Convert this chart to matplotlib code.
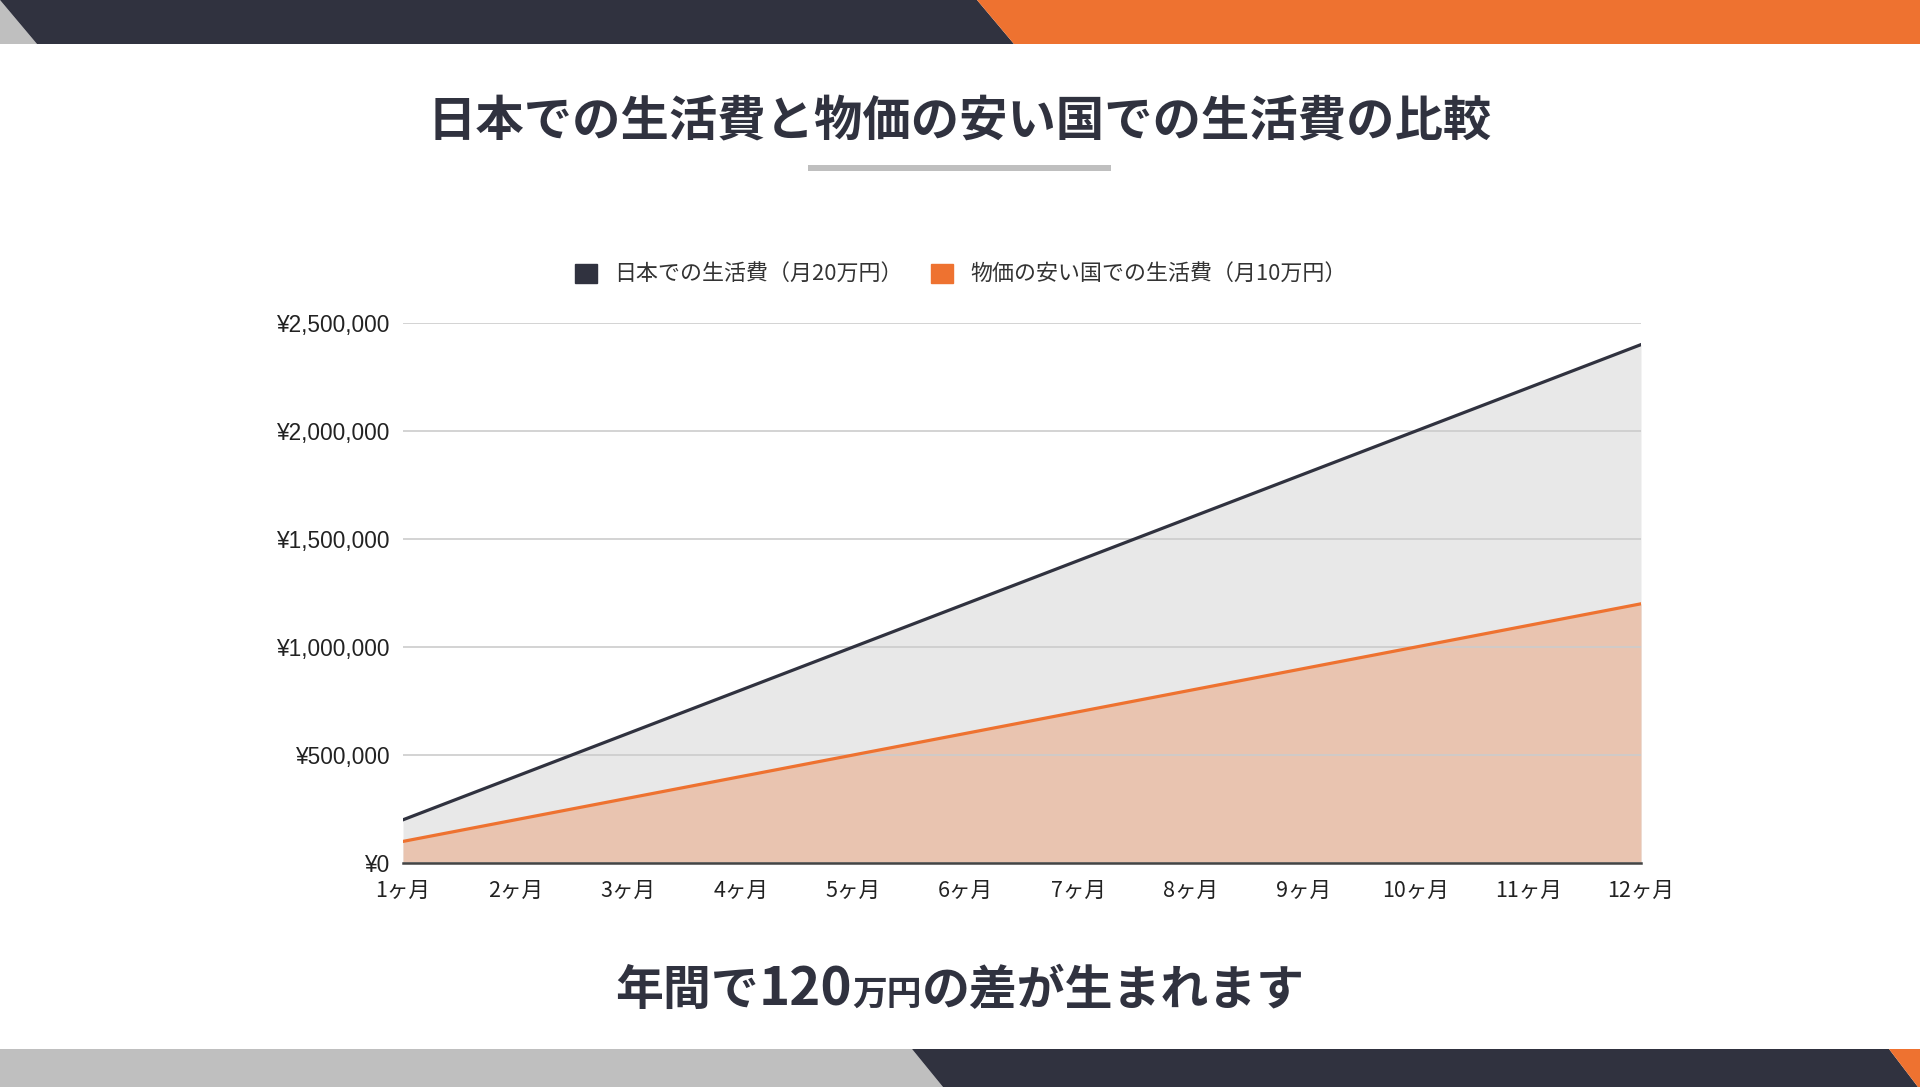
import matplotlib
matplotlib.use("Agg")
import matplotlib.pyplot as plt
from matplotlib.patches import Polygon
from matplotlib.ticker import FuncFormatter

plt.rcParams['font.family'] = ['Noto Sans CJK JP', 'DejaVu Sans']

# データ
months = ['1ヶ月', '2ヶ月', '3ヶ月', '4ヶ月', '5ヶ月', '6ヶ月',
          '7ヶ月', '8ヶ月', '9ヶ月', '10ヶ月', '11ヶ月', '12ヶ月']
japan_cost = [200000, 400000, 600000, 800000, 1000000, 1200000,
              1400000, 1600000, 1800000, 2000000, 2200000, 2400000]
cheap_cost = [100000, 200000, 300000, 400000, 500000, 600000,
              700000, 800000, 900000, 1000000, 1100000, 1200000]
y_ticks = [0, 500000, 1000000, 1500000, 2000000, 2500000]
series_names = ['日本での生活費（月20万円）', '物価の安い国での生活費（月10万円）']

DARK = '#30323F'
ORANGE = '#EE7230'
GRAY = '#BFBFBF'

W, H = 1920, 1087
fig = plt.figure(figsize=(W / 100, H / 100), dpi=100)
fig.patch.set_facecolor('white')

# 背景の帯
bg = fig.add_axes([0, 0, 1, 1])
bg.set_xlim(0, W)
bg.set_ylim(H, 0)
bg.axis('off')
bg.add_patch(Polygon([(0, 0), (0, 44), (37, 44)], color=GRAY, lw=0))
bg.add_patch(Polygon([(0, 0), (977, 0), (1014, 44), (37, 44)], color=DARK, lw=0))
bg.add_patch(Polygon([(977, 0), (W, 0), (W, 44), (1014, 44)], color=ORANGE, lw=0))
bg.add_patch(Polygon([(0, 1049), (912, 1049), (943, H), (0, H)], color=GRAY, lw=0))
bg.add_patch(Polygon([(912, 1049), (1889, 1049), (1918, H), (943, H)], color=DARK, lw=0))
bg.add_patch(Polygon([(1889, 1049), (W, 1049), (W, H), (1918, H)], color=ORANGE, lw=0))

# タイトル
bg.text(960, 121, '日本での生活費と物価の安い国での生活費の比較', ha='center', va='center',
        fontsize=34.8, fontweight='bold', color=DARK)
bg.add_patch(Polygon([(808, 165), (1111, 165), (1111, 171), (808, 171)], color=GRAY, lw=0))

# グラフ
ax = fig.add_axes([403 / W, 1 - 863 / H, (1641 - 403) / W, (863 - 323) / H])
x = list(range(len(months)))
ax.fill_between(x, 0, japan_cost, color='#E8E8E8', lw=0, zorder=1)
ax.fill_between(x, 0, cheap_cost, color='#E9C4B0', lw=0, zorder=2)
ax.plot(x, japan_cost, color=DARK, lw=2.3, zorder=4, label=series_names[0])
ax.plot(x, cheap_cost, color=ORANGE, lw=2.3, zorder=4, label=series_names[1])

ax.set_xlim(0, len(months) - 1)
ax.set_ylim(0, 2500000)
ax.set_yticks(y_ticks)
ax.yaxis.set_major_formatter(FuncFormatter(lambda v, p: f'¥{int(v):,}'))
ax.set_xticks(x)
ax.set_xticklabels(months)
ax.grid(axis='y', color='#CCCCCC', lw=1.2, zorder=3)
ax.set_axisbelow(False)
for s in ['top', 'right', 'left']:
    ax.spines[s].set_visible(False)
ax.spines['bottom'].set_color('#444444')
ax.spines['bottom'].set_linewidth(1.8)
ax.spines['bottom'].set_zorder(5)
ax.tick_params(length=0)
ax.tick_params(axis='y', pad=9, labelsize=16.3, labelcolor='#222222')
ax.tick_params(axis='x', pad=12, labelsize=15.5, labelcolor='#222222')
for t in ax.get_yticklabels():
    t.set_family(['Liberation Sans', 'DejaVu Sans'])

# 凡例
leg = fig.legend(handles=[
    plt.Rectangle((0, 0), 1, 1, color=DARK),
    plt.Rectangle((0, 0), 1, 1, color=ORANGE)],
    labels=series_names, loc='center', bbox_to_anchor=(961 / W, 1 - 275 / H),
    ncol=2, frameon=False, fontsize=15.8, handlelength=1.0, handleheight=1.0,
    handletextpad=0.8, columnspacing=1.3, labelcolor='#333333')

# 下のメッセージ
parts = [('年間で', 34.5), ('120', 38), ('万円', 25), ('の差が生まれます', 34.5)]
texts = [bg.text(0, 1005, s, fontsize=fs, fontweight='bold', color=DARK,
                 ha='left', va='baseline') for s, fs in parts]
fig.canvas.draw()
r = fig.canvas.get_renderer()
widths = [t.get_window_extent(r).width for t in texts]
cur = 960 - sum(widths) / 2
for t, w in zip(texts, widths):
    t.set_x(cur)
    cur += w

fig.savefig('out.png', dpi=100)
